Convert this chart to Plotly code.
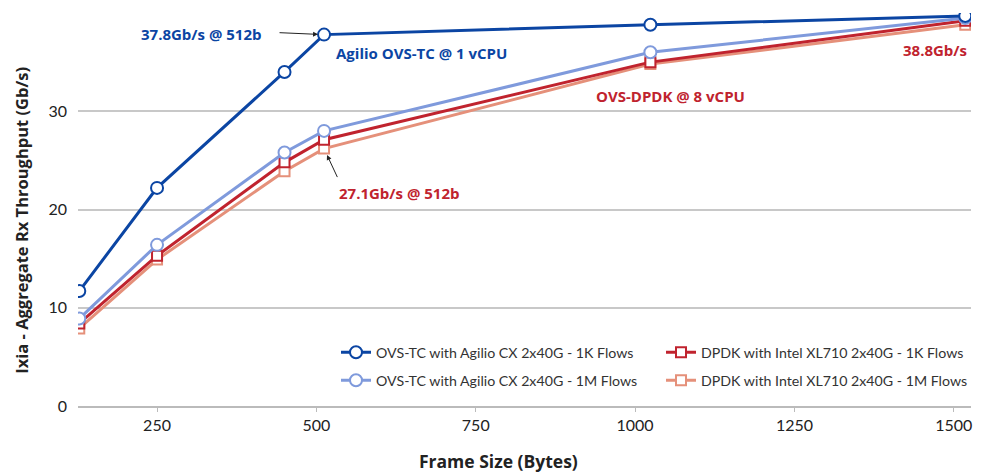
import plotly.graph_objects as go

frame_sizes = [128, 250, 450, 512, 1024, 1518]
ovs_tc_1k = [11.7, 22.2, 34.0, 37.8, 38.8, 39.7]
ovs_tc_1m = [8.9, 16.4, 25.8, 28.0, 36.0, 39.5]
dpdk_1k = [8.4, 15.3, 24.8, 27.1, 35.0, 39.2]
dpdk_1m = [7.9, 14.9, 23.9, 26.2, 34.8, 38.8]

names = [
    "OVS-TC with Agilio CX 2x40G - 1K Flows",
    "OVS-TC with Agilio CX 2x40G - 1M Flows",
    "DPDK with Intel XL710 2x40G - 1K Flows",
    "DPDK with Intel XL710 2x40G - 1M Flows",
]

BLUE = "#0b45a3"
LBLUE = "#7f9adc"
RED = "#c0232e"
SALMON = "#e5907a"

FONT = "Lato"
BFONT = "Open Sans"

fig = go.Figure()

def add(y, name, color, symbol, size, legend):
    fig.add_trace(go.Scatter(
        x=frame_sizes, y=y, name=name, mode="lines+markers",
        line=dict(color=color, width=3),
        marker=dict(symbol=symbol, size=size, color="white",
                    line=dict(color=color, width=2)),
        legend=legend,
    ))

add(dpdk_1m, names[3], SALMON, "square", 10, "legend4")
add(dpdk_1k, names[2], RED, "square", 10, "legend2")
add(ovs_tc_1m, names[1], LBLUE, "circle", 12, "legend3")
add(ovs_tc_1k, names[0], BLUE, "circle", 12, "legend")

ann_font_b = dict(family=BFONT, size=15, color=BLUE)
ann_font_r = dict(family=BFONT, size=15, color=RED)

# plot area in figure coordinates (page has an 8px body margin)
W, H = 974, 468
L, R, T, B = 70, 11, 5, 69.5
PW = W - L - R
PH = H - T - B

annotations = [
    dict(x=417, y=37.85, text="<b>37.8Gb/s @ 512b</b>", showarrow=False,
         xanchor="right", yanchor="middle", font=ann_font_b),
    dict(x=527, y=35.9, text="<b>Agilio OVS-TC @ 1 vCPU</b>", showarrow=False,
         xanchor="left", yanchor="middle", font=ann_font_b),
    dict(x=532, y=21.7, text="<b>27.1Gb/s @ 512b</b>", showarrow=False,
         xanchor="left", yanchor="middle", font=ann_font_r),
    dict(x=936, y=31.55, text="<b>OVS-DPDK @ 8 vCPU</b>", showarrow=False,
         xanchor="left", yanchor="middle", font=ann_font_r),
    dict(x=1524, y=36.2, text="<b>38.8Gb/s</b>", showarrow=False,
         xanchor="right", yanchor="middle", font=ann_font_r),
    dict(x=512, y=37.8, text="", showarrow=True, ax=-46, ay=-2,
         arrowhead=2, arrowsize=1, arrowwidth=1, arrowcolor="#222",
         standoff=6),
    dict(x=512, y=26.2, text="", showarrow=True, ax=14, ay=30,
         arrowhead=2, arrowsize=1, arrowwidth=1, arrowcolor="#222",
         standoff=7),
    # axis titles
    dict(xref="paper", yref="paper", x=(490 - L) / PW, y=(H - B - 454) / PH,
         text="<b>Frame Size (Bytes)</b>", showarrow=False,
         xanchor="center", yanchor="middle",
         font=dict(family=BFONT, size=17.5, color="#222")),
    dict(xref="paper", yref="paper", x=(14 - L) / PW, y=(H - B - 213) / PH,
         text="<b>Ixia - Aggregate Rx Throughput (Gb/s)</b>", showarrow=False,
         textangle=-90, xanchor="center", yanchor="middle",
         font=dict(family=BFONT, size=16.5, color="#222")),
]

leg_common = dict(orientation="v", xanchor="left", yanchor="middle",
                  font=dict(family=FONT, size=14.2, color="#333"),
                  bgcolor="rgba(0,0,0,0)", borderwidth=0)
x1 = (336 - 78) / PW
x2 = (661 - 78) / PW
y1 = (406.5 - 353) / PH
y2 = (406.5 - 381) / PH

fig.update_layout(
    width=W, height=H,
    margin=dict(l=L, r=R, t=T, b=B, autoexpand=False),
    paper_bgcolor="white", plot_bgcolor="white",
    font=dict(family=FONT, size=16, color="#222"),
    showlegend=True,
    legend=dict(x=x1, y=y1, **leg_common),
    legend2=dict(x=x2, y=y1, **leg_common),
    legend3=dict(x=x1, y=y2, **leg_common),
    legend4=dict(x=x2, y=y2, **leg_common),
    annotations=annotations,
    xaxis=dict(
        range=[126, 1527],
        tickvals=[250, 500, 750, 1000, 1250, 1500],
        showgrid=False, zeroline=False,
        showline=True, linecolor="#bbbbbb", linewidth=1.5,
        ticks="outside", ticklen=4, tickcolor="#bbbbbb",
        tickfont=dict(family=FONT, size=16, color="#222"),
        automargin=False,
    ),
    yaxis=dict(
        range=[0, 40],
        tickvals=[0, 10, 20, 30, 40],
        showgrid=True, gridcolor="#c8c8c8", gridwidth=1.5,
        zeroline=False, showline=False,
        ticks="", ticklabelstandoff=10,
        tickfont=dict(family=FONT, size=16, color="#222"),
        automargin=False,
    ),
)

fig.write_html("out.html")
